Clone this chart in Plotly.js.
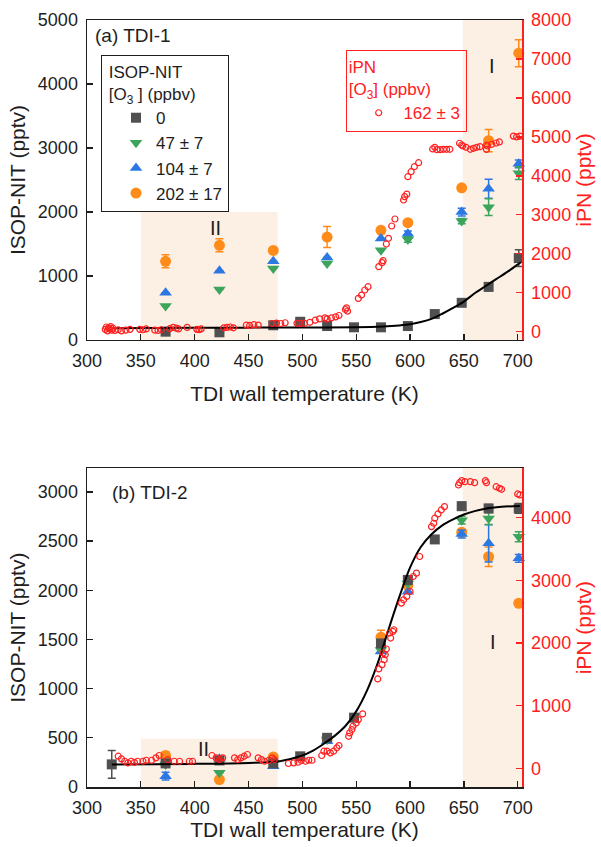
<!DOCTYPE html>
<html>
<head>
<meta charset="utf-8">
<script src="https://cdn.plot.ly/plotly-3.0.1.min.js"></script>
<style>html,body{margin:0;padding:0;background:#fff;}#chart{width:601px;height:847px;}</style>
</head>
<body>
<div id="chart"></div>
<script>
// ---------- DATA ----------
// temperatures (K)
const tempAll = [323, 373, 423, 473, 498, 523, 548, 573, 598, 623, 648, 673, 701];
const tempO3  = [373, 423, 473, 523, 573, 598, 648, 673, 701];

// legend labels
const seriesNames = ["0", "47 \u00B1 7", "104 \u00B1 7", "202 \u00B1 17"];
const ipnName = "\u00A0162 \u00B1 3";

// ---- panel (a) TDI-1, ISOP-NIT (pptv) ----
const aGray      = [-26, 130, 120, 230, 285, 218, 198, 198, 218, 405, 581, 830, 1280];
const aGrayErr   = [0, 0, 0, 0, 0, 0, 0, 0, 0, 0, 30, 60, 130];
const aGreen     = [530, 790, 1117, 1195, 1402, 1569, 1858, 2076, 2606];
const aGreenErr  = [0, 0, 0, 0, 0, 40, 40, 130, 100];
const aBlue      = [737, 1080, 1230, 1288, 1584, 1662, 1999, 2363, 2752];
const aBlueErr   = [0, 0, 0, 0, 0, 40, 60, 150, 60];
const aOrange    = [1230, 1480, 1400, 1609, 1713, 1833, 2378, 3115, 4481];
const aOrangeErr = [100, 100, 0, 165, 0, 0, 0, 175, 210];
// fit curve (a)
const aFitT = [323, 400, 500, 550, 575, 590, 600, 610, 620, 630, 640, 650, 660, 670, 680, 690, 700, 703];
const aFitV = [185, 190, 196, 200, 212, 228, 245, 280, 330, 410, 500, 600, 730, 840, 950, 1060, 1180, 1215];
// iPN (a), pptv
const aIpnT = [317, 318, 319, 320, 321, 322, 323, 324, 326, 329, 332, 336, 340, 349, 352, 355, 363, 366, 369, 377, 380, 383, 385, 393, 402, 404, 406, 427, 430, 433, 436, 448, 451, 455, 459, 472, 476, 480, 484, 495, 498, 502, 507, 512, 516, 521, 523, 527, 531, 534, 540, 541, 542, 552, 555, 558, 561, 571, 574, 575, 578, 580, 583, 586, 594, 595, 597, 598, 601, 604, 608, 621, 623, 625, 628, 631, 634, 637, 646, 648, 649, 652, 656, 659, 662, 665, 671, 672, 671, 676, 680, 683, 696, 699, 702];
const aIpnV = [60, 120, 20, 100, 70, 130, 40, 90, 30, 50, 20, 40, 60, 60, 50, 70, 40, 30, 50, 80, 110, 90, 70, 110, 60, 50, 70, 100, 110, 120, 100, 170, 160, 180, 170, 210, 220, 210, 230, 215, 215, 213, 241, 295, 329, 355, 329, 355, 381, 415, 569, 612, 526, 855, 941, 1070, 1155, 1669, 1772, 1823, 2251, 2397, 2713, 2893, 3380, 3466, 3530, 3978, 4107, 4235, 4338, 4690, 4733, 4672, 4672, 4681, 4681, 4681, 4836, 4792, 4766, 4733, 4681, 4707, 4733, 4750, 4792, 4766, 4680, 4810, 4843, 4870, 5020, 5000, 5020];

// ---- panel (b) TDI-2 ----
const bGray      = [230, 240, 270, 240, 312, 500, 705, 1460, 2105, 2517, 2855, 2832, 2832];
const bGrayErr   = [140, 0, 0, 0, 0, 0, 0, 0, 0, 0, 40, 40, 50];
const bGreen     = [228, 144, 245, 482, 1394, 2070, 2713, 2730, 2544];
const bGreenErr  = [0, 0, 0, 0, 0, 0, 40, 60, 50];
const bBlue      = [110, 286, 211, 464, 1377, 1985, 2571, 2477, 2325];
const bBlueErr   = [40, 0, 0, 0, 0, 0, 40, 190, 40];
const bOrange    = [319, 76, 306, 490, 1523, 2050, 2590, 2341, 1868];
const bOrangeErr = [40, 0, 0, 0, 70, 0, 0, 100, 30];
// fit curve (b)
const bFitT = [323, 400, 450, 479, 498, 510, 520, 530, 540, 550, 560, 570, 580, 590, 600, 610, 620, 630, 640, 650, 660, 670, 685, 702];
const bFitV = [228, 235, 245, 262, 312, 370, 440, 520, 620, 769, 980, 1260, 1600, 1930, 2230, 2440, 2570, 2660, 2720, 2770, 2805, 2830, 2848, 2858];
// iPN (b)
const bIpnT = [329, 332, 335, 338, 341, 344, 347, 352, 355, 360, 364, 367, 375, 381, 386, 395, 398, 416, 420, 423, 426, 437, 440, 443, 446, 449, 459, 462, 465, 469, 472, 474, 487, 492, 496, 499, 503, 506, 509, 518, 520, 523, 526, 529, 532, 534, 543, 544, 546, 547, 550, 552, 556, 570, 571, 574, 575, 576, 577, 578, 581, 582, 584, 585, 592, 594, 597, 600, 603, 606, 609, 620, 622, 623, 626, 629, 632, 645, 646, 648, 651, 656, 660, 670, 671, 680, 683, 685, 700, 702];
const bIpnV = [196, 154, 116, 90, 116, 99, 116, 116, 132, 132, 170, 207, 143, 116, 116, 116, 116, 207, 170, 143, 170, 170, 143, 170, 196, 223, 170, 143, 116, 132, 170, 143, 80, 90, 100, 127, 116, 132, 132, 207, 276, 276, 250, 276, 330, 366, 514, 568, 621, 674, 727, 780, 871, 1428, 1588, 1656, 1842, 1736, 1815, 1906, 2161, 2081, 2186, 2213, 2638, 2691, 2744, 2823, 3062, 3116, 3381, 3858, 3912, 3992, 4060, 4124, 4177, 4522, 4559, 4591, 4575, 4575, 4559, 4591, 4559, 4495, 4470, 4453, 4379, 4363];

// axis ticks
const xTicks = [300, 350, 400, 450, 500, 550, 600, 650, 700];
const aLeftTicks = [0, 1000, 2000, 3000, 4000, 5000];
const aRightTicks = [0, 1000, 2000, 3000, 4000, 5000, 6000, 7000, 8000];
const bLeftTicks = [0, 500, 1000, 1500, 2000, 2500, 3000];
const bRightTicks = [0, 1000, 2000, 3000, 4000];

// ---------- STYLE ----------
const C = {gray:'#505050', green:'#3ba55c', blue:'#2b78e4', orange:'#ff8c1a', red:'#ff2020', text:'#1e1e1e', shade:'#fcefe4'};
const FONT = 'Liberation Sans, Arial, sans-serif';

function pts(x, y, err, color, symbol, size, xa, ya, name, show, rank) {
  return {
    type:'scatter', mode:'markers', x:x, y:y, xaxis:xa, yaxis:ya, name:name,
    showlegend:show, legend:'legend', legendrank:rank, cliponaxis:false,
    marker:{symbol:symbol, size:size, color:color, line:{width:0}},
    error_y:{type:'data', array:err, visible:true, color:color, thickness:1.5, width:4}
  };
}
function ipn(x, y, xa, ya, show) {
  return {type:'scatter', mode:'markers', x:x, y:y, xaxis:xa, yaxis:ya, name:ipnName,
    showlegend:show, legend:'legend2', cliponaxis:false,
    marker:{symbol:'circle-open', size:6, color:C.red, line:{width:1.2, color:C.red}}};
}
function fit(x, y, xa, ya) {
  return {type:'scatter', mode:'lines', x:x, y:y, xaxis:xa, yaxis:ya, showlegend:false,
    line:{color:'#000', width:2, shape:'spline', smoothing:0.8}, hoverinfo:'skip'};
}

const data = [
  pts(tempO3, aOrange, aOrangeErr, C.orange, 'circle', 11, 'x', 'y', seriesNames[3], true, 4),
  pts(tempO3, aBlue, aBlueErr, C.blue, 'triangle-up', 11, 'x', 'y', seriesNames[2], true, 3),
  pts(tempO3, aGreen, aGreenErr, C.green, 'triangle-down', 11, 'x', 'y', seriesNames[1], true, 2),
  pts(tempAll, aGray, aGrayErr, C.gray, 'square', 10, 'x', 'y', seriesNames[0], true, 1),
  fit(aFitT, aFitV, 'x', 'y'),
  ipn(aIpnT, aIpnV, 'x', 'y2', true),

  pts(tempO3, bOrange, bOrangeErr, C.orange, 'circle', 11, 'x2', 'y3', seriesNames[3], false, 4),
  pts(tempO3, bBlue, bBlueErr, C.blue, 'triangle-up', 11, 'x2', 'y3', seriesNames[2], false, 3),
  pts(tempO3, bGreen, bGreenErr, C.green, 'triangle-down', 11, 'x2', 'y3', seriesNames[1], false, 2),
  pts(tempAll, bGray, bGrayErr, C.gray, 'square', 10, 'x2', 'y3', seriesNames[0], false, 1),
  fit(bFitT, bFitV, 'x2', 'y3'),
  ipn(bIpnT, bIpnV, 'x2', 'y4', false)
];

const axText = {family:FONT, size:18, color:C.text};
function xax(anchor, standoff) {
  return {anchor:anchor, domain:[0,1], range:[300,704], tickvals:xTicks, ticks:'inside', ticklen:6,
    tickwidth:1.3, tickcolor:C.text, showline:true, linecolor:C.text, linewidth:1.5, mirror:true,
    showgrid:false, zeroline:false, tickfont:axText, ticklabelstandoff:4,
    title:{text:'TDI wall temperature (K)', font:{family:FONT, size:21, color:C.text}, standoff:standoff}};
}
function ylax(anchor, dom, range, ticks) {
  return {anchor:anchor, domain:dom, range:range, tickvals:ticks, ticks:'inside', ticklen:6,
    tickwidth:1.3, tickcolor:C.text, showline:true, linecolor:C.text, linewidth:1.5,
    showgrid:false, zeroline:false, tickfont:axText, ticklabelstandoff:4,
    title:{text:'ISOP-NIT (pptv)', font:{family:FONT, size:21, color:C.text}, standoff:6}};
}
function yrax(anchor, over, range, ticks) {
  return {anchor:anchor, overlaying:over, side:'right', range:range, tickvals:ticks, ticks:'inside', ticklen:6,
    tickwidth:1.3, tickcolor:C.red, showline:true, linecolor:C.red, linewidth:1.5,
    showgrid:false, zeroline:false, tickfont:{family:FONT, size:18, color:C.red}, ticklabelstandoff:4,
    title:{text:'iPN (pptv)', font:{family:FONT, size:21, color:C.red}, standoff:6}};
}

const layout = {
  width:601, height:847,
  margin:{l:87, r:79, t:20, b:60},
  paper_bgcolor:'#fff', plot_bgcolor:'rgba(0,0,0,0)',
  font:{family:FONT, color:C.text},
  showlegend:true,
  xaxis: xax('y', 16),
  yaxis: ylax('x', [0.5828, 1], [0, 5000], aLeftTicks),
  yaxis2: yrax('x', 'y', [-213, 8000], aRightTicks),
  xaxis2: xax('y3', 4),
  yaxis3: ylax('x2', [0, 0.4155], [0, 3240], bLeftTicks),
  yaxis4: yrax('x2', 'y3', [-295, 4788], bRightTicks),
  legend:{x:0.0322, y:0.9544, xanchor:'left', yanchor:'top', bordercolor:C.text, borderwidth:1,
    bgcolor:'rgba(255,255,255,0)', font:{family:FONT, size:17, color:C.text}, traceorder:'normal',
    title:{text:'\u00A0ISOP-NIT<br>\u00A0[O<sub>3</sub> ] (ppbv)', font:{family:FONT, size:17, color:C.text}},
    tracegroupgap:0, indentation:14, itemwidth:30},
  legend2:{x:0.5947, y:0.9609, xanchor:'left', yanchor:'top', bordercolor:C.red, borderwidth:1,
    bgcolor:'rgba(255,255,255,0)', font:{family:FONT, size:17, color:C.red}, indentation:12,
    title:{text:'iPN<br>[O<sub>3</sub>] (ppbv)', font:{family:FONT, size:17, color:C.red}}},
  shapes:[
    {type:'rect', xref:'x', yref:'y', x0:350, x1:477, y0:0, y1:2000, fillcolor:C.shade, line:{width:0}, layer:'below'},
    {type:'rect', xref:'x', yref:'y domain', x0:649, x1:704, y0:0, y1:1, fillcolor:C.shade, line:{width:0}, layer:'below'},
    {type:'rect', xref:'x2', yref:'y3', x0:350, x1:477, y0:0, y1:490, fillcolor:C.shade, line:{width:0}, layer:'below'},
    {type:'rect', xref:'x2', yref:'y3 domain', x0:649, x1:704, y0:0, y1:1, fillcolor:C.shade, line:{width:0}, layer:'below'}
  ],
  annotations:[
    {text:'(a) TDI-1', xref:'paper', yref:'paper', x:0.0138, y:0.9804, xanchor:'left', yanchor:'middle', showarrow:false, font:{family:FONT, size:19, color:C.text}},
    {text:'(b) TDI-2', xref:'paper', yref:'paper', x:0.0529, y:0.3846, xanchor:'left', yanchor:'middle', showarrow:false, font:{family:FONT, size:19, color:C.text}},
    {text:'II', xref:'x', yref:'y', x:419, y:1745, showarrow:false, font:{family:FONT, size:20, color:C.text}},
    {text:'I', xref:'x', yref:'y', x:676, y:4276, showarrow:false, font:{family:FONT, size:20, color:C.text}},
    {text:'II', xref:'x2', yref:'y3', x:408, y:383, showarrow:false, font:{family:FONT, size:20, color:C.text}},
    {text:'I', xref:'x2', yref:'y3', x:677, y:1476, showarrow:false, font:{family:FONT, size:20, color:C.text}}
  ]
};

Plotly.newPlot('chart', data, layout, {displayModeBar:false, staticPlot:true});
</script>
</body>
</html>
